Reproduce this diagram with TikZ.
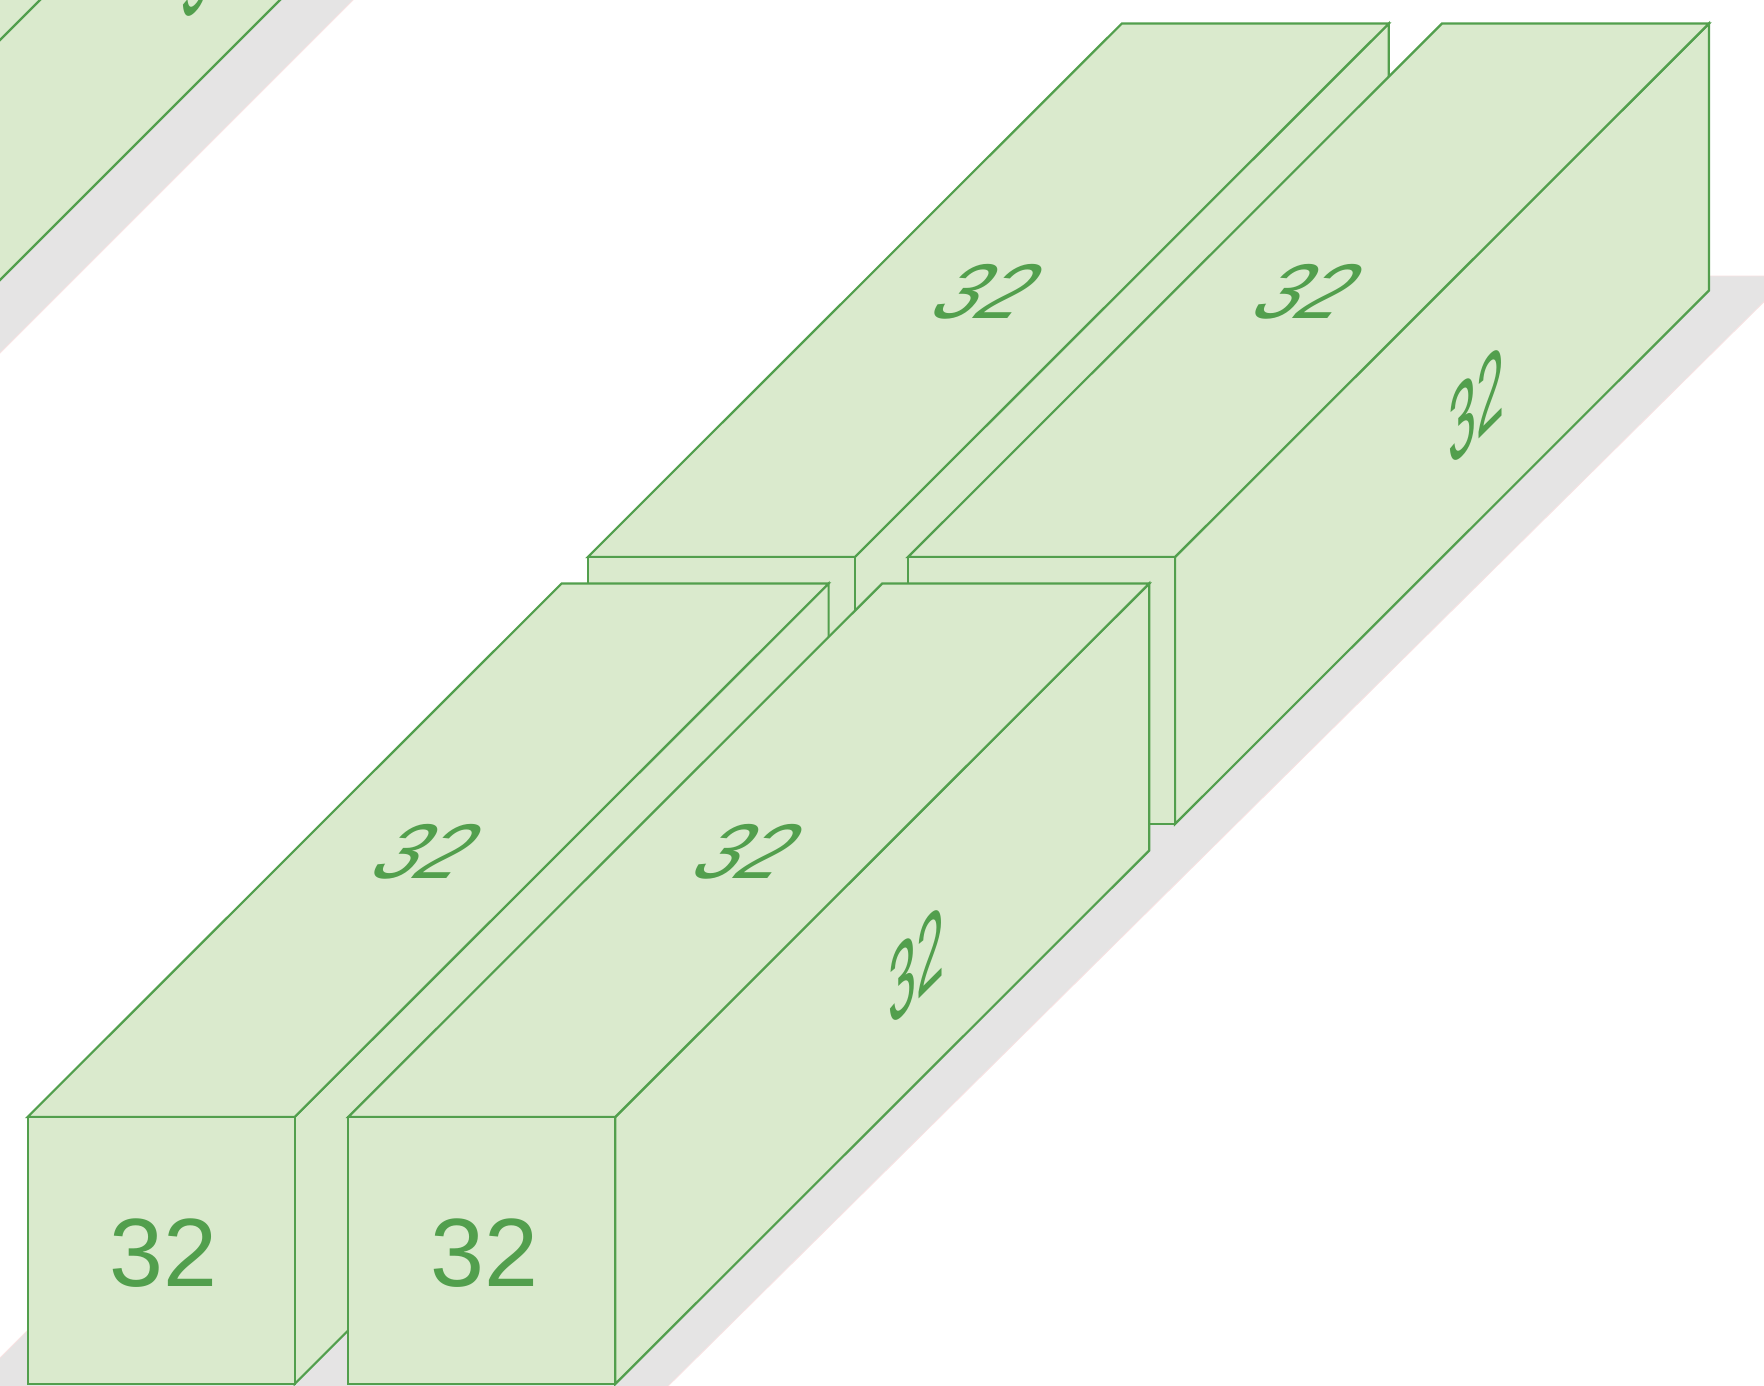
\documentclass[tikz,border=0pt]{standalone}
\usepackage{fontspec}
\setmainfont{Liberation Sans}
\definecolor{blockfill}{HTML}{DAEACD}
\definecolor{blockline}{HTML}{529F4D}
\definecolor{shadowfill}{HTML}{E5E4E4}
\definecolor{shadowline}{HTML}{F8E2E2}
\tikzset{
  x=1pt,y=-1pt,
  face/.style={draw=blockline,fill=blockfill,line width=2.2pt,line join=miter},
  shadow/.style={draw=shadowline,fill=shadowfill,line width=0.8pt},
  lab/.style={text=blockline,inner sep=0pt,font=\fontsize{97}{97}\selectfont},
  toplab/.style={lab,cm={0.8,0,0.62,0.8,(0,0)}},
  sidelab/.style={lab,cm={0.52,0.52,0,1.08,(0,0)}},
  pics/slab/.style={code={
    \draw[face] (267,0) -- ++(534,-533.5) -- ++(0,267) -- ++(-534,533.5) -- cycle;
    \draw[face] (0,0) -- ++(534,-533.5) -- ++(267,0) -- ++(-534,533.5) -- cycle;
    \draw[face] (0,0) rectangle (267,267);
    \node[lab] at (136,136) {32};
    \node[toplab] at (401,-265.5) {32};
    \node[sidelab] at (568.5,-152) {32};
  }}
}
\begin{document}
\begin{tikzpicture}
\useasboundingbox (0,0) rectangle (1764,1385);
\clip (0,0) rectangle (1764,1385);
\fill[white] (0,0) rectangle (1764,1385);
% shadows
\draw[shadow] (-10,-10) -- (363,-10) -- (-10,363) -- cycle;
\draw[shadow] (1790,276) -- (1082,276) -- (-37,1395) -- (659,1395) -- cycle;
% upper-left block
\draw[face] (-10,-10) -- (290,-10) -- (-10,290) -- cycle;
\draw[face] (50,-10) -- (-10,50);
\node[sidelab] (cornerlabel) at (210,-39) {32};
% rear row
\pic at (587.8,557) {slab};
\pic at (908,557) {slab};
% front row
\pic at (27.6,1117) {slab};
\pic at (348.2,1117) {slab};
\end{tikzpicture}
\end{document}
